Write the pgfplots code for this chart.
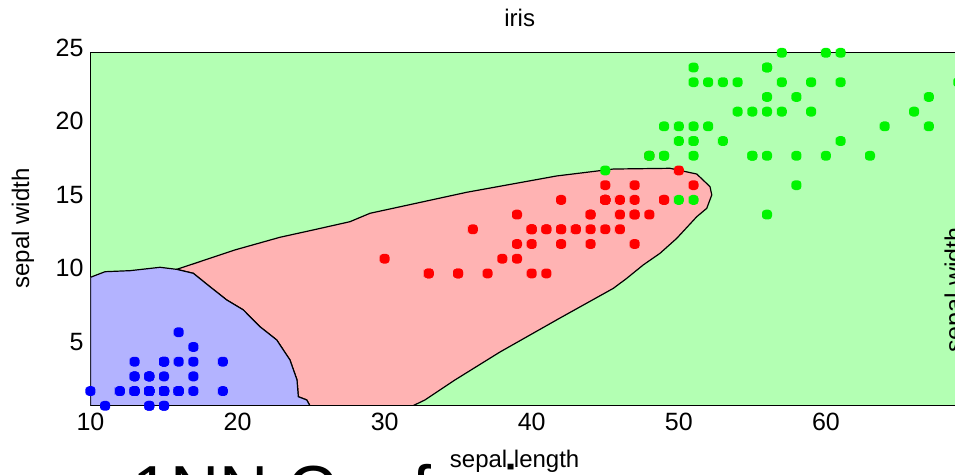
\documentclass[border=0pt]{standalone}
\usepackage{fontspec}
\setmainfont{Liberation Sans}
\usepackage{pgfplots}
\pgfplotsset{compat=1.18}
\definecolor{bgG}{RGB}{179,255,179}
\definecolor{bgR}{RGB}{255,179,179}
\definecolor{bgB}{RGB}{179,179,255}
\definecolor{ptG}{RGB}{0,245,0}
\definecolor{ptR}{RGB}{255,0,0}
\definecolor{ptB}{RGB}{0,0,255}
\pgfdeclareplotmark{rsqB}{%
  \path[fill=ptB, draw=none, rounded corners=1.8pt] (-2.5pt,0pt) -- (-2.5pt,2.4pt) -- (2.5pt,2.4pt) -- (2.5pt,-2.5pt) -- (-2.5pt,-2.5pt) -- cycle;}
\pgfdeclareplotmark{rsqR}{%
  \path[fill=ptR, draw=none, rounded corners=1.8pt] (-2.5pt,0pt) -- (-2.5pt,2.4pt) -- (2.5pt,2.4pt) -- (2.5pt,-2.5pt) -- (-2.5pt,-2.5pt) -- cycle;}
\pgfdeclareplotmark{rsqG}{%
  \path[fill=ptG, draw=none, rounded corners=1.8pt] (-2.5pt,0pt) -- (-2.5pt,2.4pt) -- (2.5pt,2.4pt) -- (2.5pt,-2.5pt) -- (-2.5pt,-2.5pt) -- cycle;}
\begin{document}
\begin{tikzpicture}
\useasboundingbox (-45.25pt,-34.65pt) rectangle (432.25pt,202.85pt);
\clip (-45.25pt,-34.65pt) rectangle (432.25pt,202.85pt);
\begin{axis}[
  at={(0,0)}, anchor=south west,
  scale only axis, width=433.9pt, height=176.5pt,
  xmin=10, xmax=69, ymin=1, ymax=25,
  xtick={10,20,...,60}, ytick={5,10,...,25},
  major tick length=0pt,
  axis background/.style={fill=bgG},
  tick label style={font=\fontsize{12.5}{15}\selectfont},
  /pgf/number format/assume math mode=true,
  yticklabel style={yshift=2.6pt},
  clip mode=individual,
  axis line style={line width=0.6pt},
]
% versicolor region
\addplot[fill=bgR, draw=black, line width=0.6pt] coordinates {
(15.86,10.27) (17.10,10.68) (19.82,11.59) (22.88,12.45) (25.15,12.95) (27.64,13.51)
(29.00,14.08) (35.58,15.51) (41.70,16.62) (45.55,17.09) (49.40,17.14) (51.22,16.75)
(52.12,15.89) (52.24,15.33) (51.90,14.42) (51.22,13.85) (49.86,12.38) (48.72,11.36)
(47.58,10.57) (46.46,9.66) (45.55,8.98) (41.92,6.96) (37.84,4.65) (34.78,2.75)
(32.74,1.39) (31.93,1) (24.92,1) (24.70,1.39) (24.13,1.61) (24.04,2.75) (23.56,4.11)
(22.66,5.47) (21.52,6.37) (20.39,7.51) (19.26,8.19) (18.12,9.09) (16.99,10.00) (15.86,10.27)
} -- cycle;
% setosa region
\addplot[fill=bgB, draw=black, line width=0.6pt] coordinates {
(10,1) (10,9.73) (10.99,10.11) (12.69,10.18) (14.73,10.41) (15.86,10.27) (16.99,10.00)
(18.12,9.09) (19.26,8.19) (20.39,7.51) (21.52,6.37) (22.66,5.47) (23.56,4.11)
(24.04,2.75) (24.13,1.61) (24.70,1.39) (24.92,1)
} -- cycle;
% setosa
\addplot[only marks, mark=rsqB] coordinates {
(14,2) (14,2) (13,2) (15,2) (14,2) (17,4) (14,3) (15,2) (14,2) (15,1) (15,2) (16,2) (14,1)
(11,1) (12,2) (15,4) (13,4) (14,3) (17,3) (15,3) (17,2) (15,4) (10,2) (17,5) (19,2) (16,2)
(16,4) (15,2) (14,2) (16,2) (16,2) (15,4) (15,1) (14,2) (15,2) (12,2) (13,2) (14,1) (13,2)
(15,2) (13,3) (13,3) (13,2) (16,6) (19,4) (14,3) (16,2) (14,2) (15,2) (14,2)
};
% versicolor
\addplot[only marks, mark=rsqR] coordinates {
(47,14) (45,15) (49,15) (40,13) (46,15) (45,13) (47,16) (33,10) (46,13) (39,14) (35,10)
(42,15) (40,10) (47,14) (36,13) (44,14) (45,15) (41,10) (45,15) (39,11) (48,18) (40,13)
(49,15) (47,12) (43,13) (44,14) (48,14) (50,17) (45,15) (35,10) (38,11) (37,10) (39,12)
(51,16) (45,15) (45,16) (47,15) (44,13) (41,13) (40,13) (44,12) (46,14) (40,12) (33,10)
(42,13) (42,12) (42,13) (43,13) (30,11) (41,13)
};
% virginica
\addplot[only marks, mark=rsqG] coordinates {
(60,25) (51,19) (59,21) (56,18) (58,22) (66,21) (45,17) (63,18) (58,18) (61,25) (51,20)
(53,19) (55,21) (50,20) (51,24) (53,23) (55,18) (67,22) (69,23) (50,15) (57,23) (49,20)
(67,20) (49,18) (57,21) (60,18) (48,18) (49,18) (56,21) (58,16) (61,19) (64,20) (56,22)
(51,15) (56,14) (61,23) (56,24) (55,18) (48,18) (54,21) (56,24) (51,23) (51,19) (59,23)
(57,25) (52,23) (50,19) (52,20) (54,23) (51,18)
};
\node[anchor=base, yshift=13pt, font=\fontsize{12}{14}\selectfont] at (axis description cs:0.4946,1) {iris};
\node[anchor=base, font=\fontsize{12}{14}\selectfont] at ([yshift=-30.8pt]axis description cs:0.4888,0) {sepal length};
\node[rotate=90, anchor=center, font=\fontsize{12}{14}\selectfont] at ([xshift=-33.75pt]axis description cs:0,0.5025) {sepal width};
\end{axis}
\node[rotate=90, anchor=north, inner sep=0pt, font=\fontsize{12.5}{14}\selectfont] at (426.75pt,57.85pt) {sepal width};
\node[anchor=base west, inner sep=0pt, font=\fontsize{34}{40}\selectfont] at (21.05pt,-54.15pt) {1NN Confusion};
\end{tikzpicture}
\end{document}
